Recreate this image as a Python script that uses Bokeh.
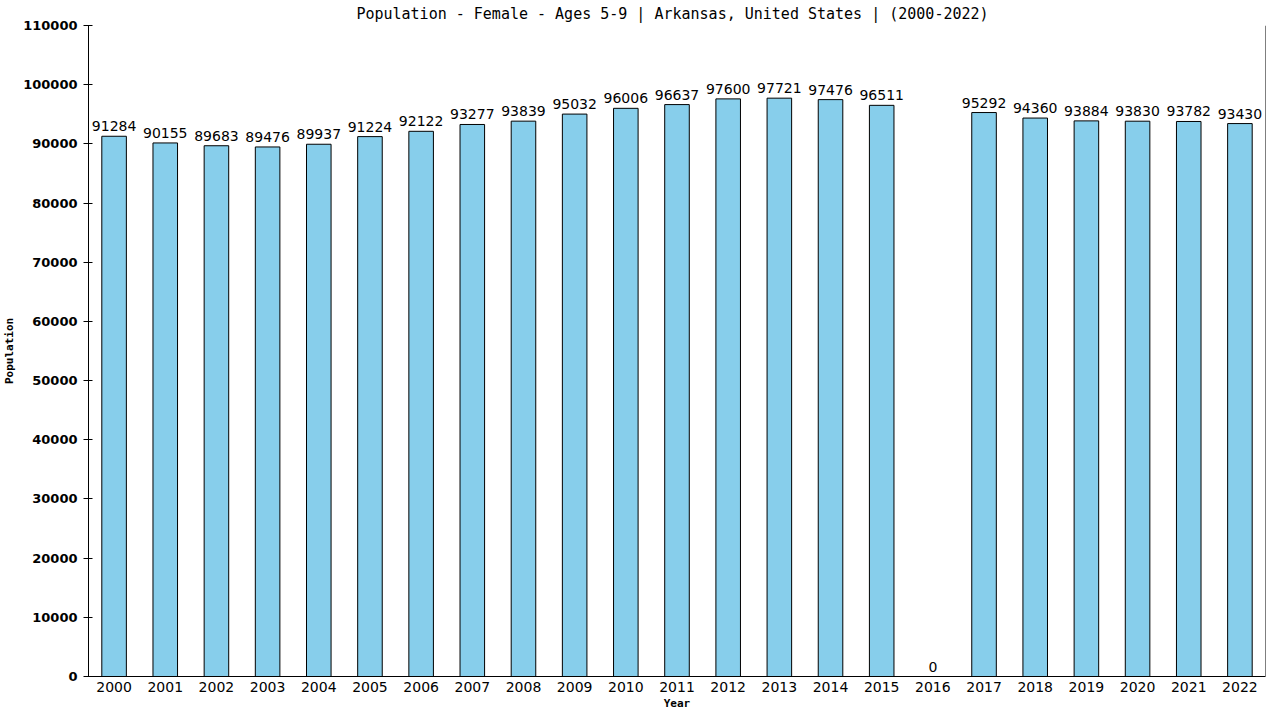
from bokeh.plotting import figure
from bokeh.models import (ColumnDataSource, FixedTicker, Range1d, FactorRange,
                          NumeralTickFormatter, Span)
from bokeh.embed import file_html
from bokeh.resources import INLINE
from bokeh.core.properties import value

years = [str(y) for y in range(2000, 2023)]
population = [91284, 90155, 89683, 89476, 89937, 91224, 92122, 93277, 93839, 95032,
              96006, 96637, 97600, 97721, 97476, 96511, 0, 95292, 94360, 93884,
              93830, 93782, 93430]
y_ticks = list(range(0, 110001, 10000))
title_text = "Population - Female - Ages 5-9 | Arkansas, United States |  (2000-2022)"
x_title = "Year"
y_title = "Population"

src = ColumnDataSource(dict(year=years, pop=population, lab=[str(v) for v in population]))

p = figure(width=1272, height=712, output_backend="svg", toolbar_location=None,
           x_range=FactorRange(factors=years, range_padding=0),
           y_range=Range1d(0, 110000),
           min_border_left=0, min_border_right=7, min_border_top=0, min_border_bottom=0)
p.border_fill_color = "white"

p.title.text = title_text
p.title.align = "center"
p.title.text_font = "DejaVu Sans Mono"
p.title.text_font_size = "15px"
p.title.text_font_style = "normal"
p.title.text_color = "black"
p.title.standoff = 5

p.vbar(x="year", top="pop", width=0.48, source=src, fill_color="#87CEEB",
       line_color="black", line_width=1)
p.text(x="year", y="pop", text="lab", source=src, text_align="center",
       text_baseline="bottom", y_offset=-5, text_font=value("DejaVu Sans"),
       text_font_size="14px", text_color="black")

p.grid.visible = False
p.outline_line_color = None
p.background_fill_color = "white"

ya = p.yaxis[0]
ya.ticker = FixedTicker(ticks=y_ticks)
ya.formatter = NumeralTickFormatter(format="0")
ya.major_tick_in = 4
ya.major_tick_out = 5
ya.major_tick_line_color = "black"
ya.minor_tick_line_color = None
ya.axis_line_color = "black"
ya.major_label_text_font = "DejaVu Sans"
ya.major_label_text_font_size = "13px"
ya.major_label_text_font_style = "bold"
ya.major_label_text_color = "black"
ya.major_label_standoff = 6
ya.axis_label = y_title
ya.axis_label_text_font = "DejaVu Sans Mono"
ya.axis_label_text_font_size = "11px"
ya.axis_label_text_font_style = "bold"
ya.axis_label_text_color = "black"
ya.axis_label_standoff = 4

xa = p.xaxis[0]
xa.major_tick_line_color = None
xa.major_tick_out = 0
xa.major_tick_in = 0
xa.axis_line_color = "black"
xa.major_label_text_font = "DejaVu Sans"
xa.major_label_text_font_size = "14px"
xa.major_label_text_color = "black"
xa.major_label_standoff = 5
xa.axis_label = x_title
xa.axis_label_text_font = "DejaVu Sans Mono"
xa.axis_label_text_font_size = "11px"
xa.axis_label_text_font_style = "bold"
xa.axis_label_text_color = "black"
xa.axis_label_standoff = 2

p.add_layout(Span(location=len(years), dimension="height", line_color="black",
                  line_width=1))

open("out.html", "w").write(file_html(p, INLINE))
